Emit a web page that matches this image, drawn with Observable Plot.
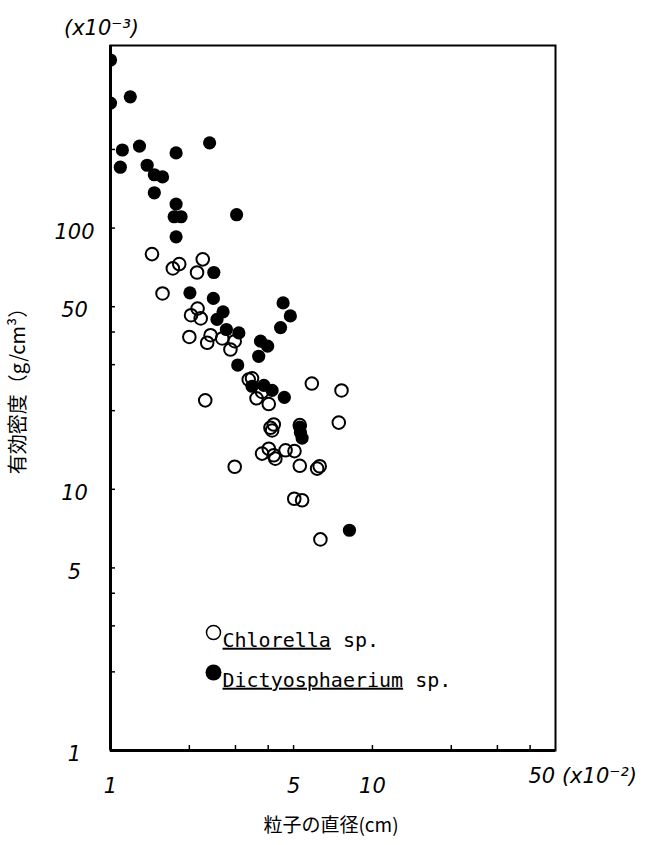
<!DOCTYPE html>
<html>
<head>
<meta charset="utf-8">
<script src="https://cdn.jsdelivr.net/npm/d3@7"></script>
<script src="https://cdn.jsdelivr.net/npm/@observablehq/plot@0.6"></script>
<style>
  html, body { margin: 0; padding: 0; background: #fff; }
</style>
</head>
<body>
<div id="chart"></div>
<script>
// Chlorella sp. (open circles): particle diameter (x10^-2 cm), effective density (x10^-3 g/cm3)
const chlorellaDiameter = [1.44,1.73,1.83,2.25,2.14,1.58,2.15,2.03,2.21,2.00,2.41,2.34,2.67,2.98,2.87,3.37,3.47,3.61,3.79,4.02,2.30,5.87,7.62,7.44,4.08,4.20,4.14,5.28,3.79,4.02,4.20,4.26,4.66,5.04,2.98,5.28,6.15,6.29,5.03,5.39,6.33];
const chlorellaDensity  = [79.5,70.1,72.8,75.9,67.6,56.2,49.2,46.4,45.1,38.3,38.9,36.4,37.8,36.9,34.3,26.3,26.6,22.3,23.6,21.2,21.9,25.4,23.9,18.0,17.2,17.7,16.8,17.6,13.7,14.3,13.5,13.1,14.1,14.0,12.2,12.3,12.0,12.25,9.2,9.08,6.43];

// Dictyosphaerium sp. (filled circles)
const dictyDiameter = [1.00,1.00,1.19,1.11,1.29,1.09,1.38,1.47,1.58,1.47,1.78,2.39,1.78,1.75,1.86,3.03,1.78,2.48,2.01,2.47,4.56,4.86,4.46,2.69,2.55,2.77,3.09,3.74,3.98,3.68,3.06,3.47,3.85,4.14,4.61,5.28,5.31,5.39,8.17];
const dictyDensity  = [440,301,318,199,206,171,174,160,157,136.5,194,212,123.6,110.5,110.5,112.5,92.6,67.6,56.5,53.8,51.7,46.1,41.6,47.8,44.7,40.9,39.7,36.9,35.3,32.3,29.9,24.8,25.0,23.9,22.5,17.3,16.5,15.7,6.97];

// Axis ticks and labels
const xTicks = [2,3,4,5,10,20,30,40];
const yTicks = [2,3,4,5,10,20,30,40,50,100,200];
const xLabelValues = [1,5,10];
const xLabelTexts = ["1","5","10"];
const xLastLabelValue = [50];
const xLastLabelText = ["50 (x10⁻²)"];
const yLabelValues = [1,5,10,50,100];
const yLabelTexts = ["1","5","10","50","100"];
const yUnitText = "(x10⁻³)";
const xTitle = "粒子の直径(cm)";
const yTitle = "有効密度（g/cm³）";
const legendNames = ["Chlorella", "Dictyosphaerium"];
const legendSuffix = " sp.";

const chlorella = chlorellaDiameter.map((d, i) => ({d, rho: chlorellaDensity[i]}));
const dicty = dictyDiameter.map((d, i) => ({d, rho: dictyDensity[i]}));

const handFont = "'DejaVu Sans ExtraLight', 'DejaVu Sans', sans-serif";
const cjkFont = "'Noto Sans CJK JP', sans-serif";
const monoFont = "'DejaVu Sans Mono', monospace";
const hand = {fontSize: 21, fontFamily: handFont, fontStyle: "oblique", fontWeight: 200};

const plot = Plot.plot({
  width: 650,
  height: 845,
  marginLeft: 110,
  marginRight: 95,
  marginTop: 45,
  marginBottom: 95,
  style: {background: "white", color: "black"},
  x: {type: "log", domain: [1, 50]},
  y: {type: "log", domain: [1, 500]},
  marks: [
    // inward ticks
    Plot.axisX({ticks: xTicks, tickSize: -5, tickFormat: () => "", label: null, strokeWidth: 1.5}),
    Plot.axisY({ticks: yTicks, tickSize: -5, tickFormat: () => "", label: null, strokeWidth: 1.5}),
    // frame
    Plot.frame({stroke: "black", strokeWidth: 2}),
    Plot.ruleX([1], {stroke: "black", strokeWidth: 3}),
    Plot.ruleY([1], {stroke: "black", strokeWidth: 3}),
    // tick labels (hand-lettered look)
    Plot.text(xLabelValues, {x: d => d, text: (d, i) => xLabelTexts[i], frameAnchor: "bottom", dy: 42, ...hand}),
    Plot.text(xLastLabelValue, {x: d => d, text: (d, i) => xLastLabelText[i], frameAnchor: "bottom", dy: 32,
      dx: -27, textAnchor: "start", ...hand}),
    Plot.text(yLabelValues, {y: d => d, text: (d, i) => yLabelTexts[i], frameAnchor: "left", dx: -36, dy: 4,
      textAnchor: "middle", ...hand}),
    Plot.text([yUnitText], {text: d => d, frameAnchor: "top-left", dx: -9, dy: -25, textAnchor: "middle", ...hand}),
    // axis titles
    Plot.text([xTitle], {text: d => d, frameAnchor: "bottom", dy: 81, dx: -2, fontSize: 19, fontFamily: cjkFont, fill: "black"}),
    Plot.text([yTitle], {text: d => d, frameAnchor: "left", dx: -92, dy: -12, rotate: -90, textAnchor: "middle",
      fontSize: 20, fontFamily: cjkFont, fill: "black"}),
    // data
    Plot.dot(chlorella, {x: "d", y: "rho", r: 6.3, stroke: "black", strokeWidth: 2, fill: "none", clip: true}),
    Plot.dot(dicty, {x: "d", y: "rho", r: 6.6, fill: "black", stroke: "none", clip: true}),
    // legend
    Plot.dot([legendNames[0]], {frameAnchor: "top-left", dx: 103, dy: 587, r: 7, stroke: "black", strokeWidth: 1.5, fill: "none"}),
    Plot.dot([legendNames[1]], {frameAnchor: "top-left", dx: 103, dy: 627, r: 8, fill: "black"}),
    Plot.text([legendNames[0]], {text: d => d, frameAnchor: "top-left", dx: 112, dy: 587, textAnchor: "start",
      fontSize: 20, fontFamily: monoFont}),
    Plot.text([legendNames[1]], {text: d => d, frameAnchor: "top-left", dx: 112, dy: 627, textAnchor: "start",
      fontSize: 20, fontFamily: monoFont})
  ]
});

// underline the genus name, then append " sp."
d3.select(plot).selectAll("text").each(function() {
  const t = d3.select(this);
  const name = t.text();
  if (!legendNames.includes(name)) return;
  t.text(null);
  t.append("tspan").style("text-decoration", "underline").text(name);
  t.append("tspan").text(legendSuffix);
});

document.getElementById("chart").append(plot);
</script>
</body>
</html>
